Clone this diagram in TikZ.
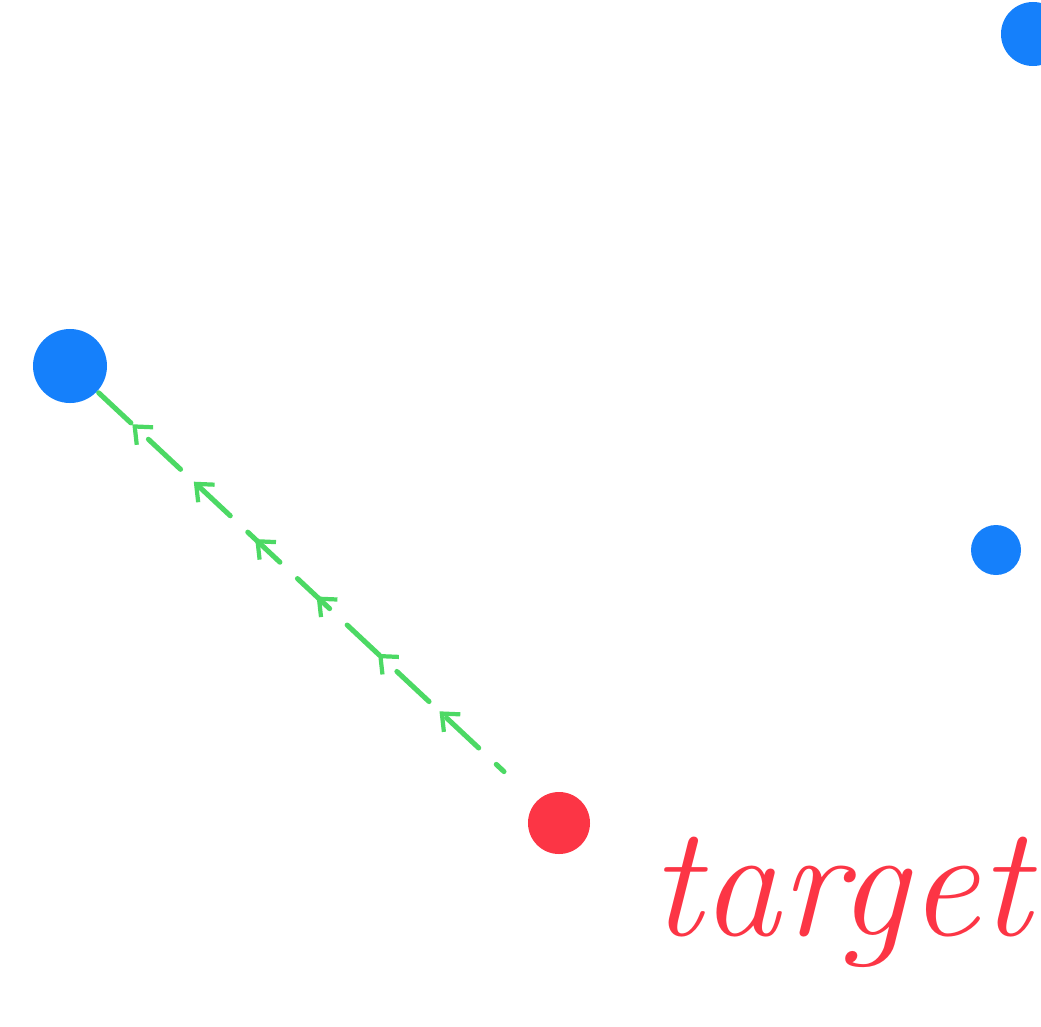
\documentclass[tikz,border=0pt]{standalone}
\usepackage{tikz}
\usetikzlibrary{arrows.meta, decorations.markings}

\definecolor{dotblue}{RGB}{21,128,251}
\definecolor{dotred}{RGB}{252,53,69}
\definecolor{pathgreen}{RGB}{76,217,100}

\begin{document}
\begin{tikzpicture}[x=0.025cm,y=-0.025cm,
    blob/.style={circle,fill=#1,inner sep=0pt},
    trail/.style={pathgreen,line width=3.6pt,line cap=round,
                  dash pattern=on 1.1cm off 0.6cm,
                  postaction={decorate},
                  decoration={markings,
                    mark=between positions 0.08 and 0.9 step 0.14
                    with {\arrowreversed[solid,pathgreen,line width=3pt]{Straight Barb[length=0.35cm,width=0.6cm]}}}}]
      \useasboundingbox (0,0) rectangle (1041,1027);
      % the dots
      \node[blob=dotblue,minimum size=1.85cm](start)at(70,366){};
      \node[blob=dotblue,minimum size=1.6cm](top)at(1033,34){};
      \node[blob=dotblue,minimum size=1.25cm](side)at(996,550){};
      \node[blob=dotred,minimum size=1.55cm](goal)at(559,823){};
      % dashed trail from the goal back to the start
      \draw[trail,shorten <=0.05cm,shorten >=1.1cm](start)--(goal);
      % label
      \node[anchor=base west,inner sep=0pt,text=dotred,
            font=\fontsize{112}{128}\selectfont\itshape](lbl)at(650,935){target};
    \end{tikzpicture}
\end{document}
